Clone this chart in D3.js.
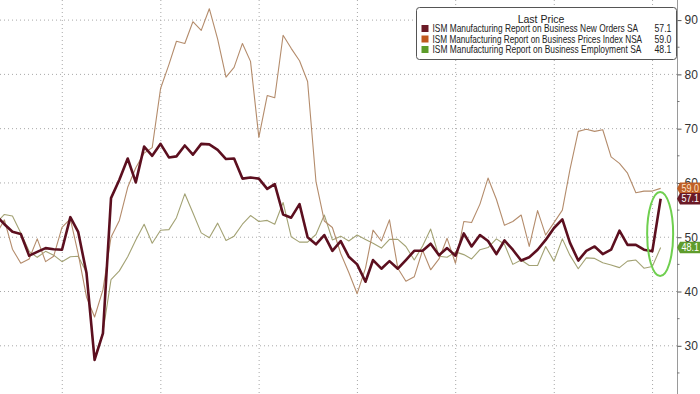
<!DOCTYPE html>
<html>
<head>
<meta charset="utf-8">
<script src="https://cdn.jsdelivr.net/npm/d3@7"></script>
<style>
  html, body { margin: 0; padding: 0; background: #fff; }
  svg { display: block; font-family: "Liberation Sans", Arial, sans-serif; }
</style>
</head>
<body>
<svg id="chart" width="700" height="394"></svg>
<script>
// monthly data, Apr 2019 .. Jan 2026 (month-end)
var startYear = 2019, startMonth = 3;

var newOrders = [
    54.0, 52.4, 51.0, 50.6, 46.6, 47.3, 48.0, 47.8, 47.7,
    53.7, 51.0, 43.4, 27.4, 32.3, 57.2, 60.6, 64.5, 60.1, 66.7, 65.0, 67.2,
    64.7, 64.9, 66.9, 65.2, 67.2, 67.1, 66.1, 64.4, 64.5, 60.8, 61.0, 60.8,
    58.9, 59.8, 54.2, 53.6, 56.1, 50.0, 48.7, 50.4, 47.5, 49.3, 46.4, 45.0,
    41.8, 45.8, 44.2, 45.6, 44.2, 45.8, 47.5, 47.5, 48.8, 46.7, 48.0, 46.6,
    50.7, 48.3, 50.4, 49.3, 46.9, 49.4, 47.7, 45.7, 46.3, 47.7, 49.5, 51.7,
    53.3, 49.0, 45.7, 47.5, 48.3, 46.9, 47.7, 51.2, 48.6, 48.6, 47.7, 47.4,
    57.1
];

var prices = [
    50.5, 53.2, 47.8, 45.2, 46.0, 49.7, 45.5, 46.5, 51.8,
    53.4, 47.0, 39.0, 35.3, 40.3, 50.0, 53.1, 59.2, 62.8, 65.5, 66.5, 77.4,
    81.8, 86.1, 85.7, 89.7, 88.1, 92.1, 86.5, 79.5, 81.3, 85.7, 82.4, 68.4,
    76.1, 75.7, 87.2, 84.8, 82.5, 78.7, 60.3, 53.0, 51.8, 47.0, 43.5, 39.6,
    44.3, 51.3, 49.3, 53.2, 44.3, 41.9, 42.7, 47.6, 44.0, 46.0, 49.8, 45.2,
    52.9, 52.7, 56.1, 60.9, 57.0, 52.2, 52.9, 54.1, 48.3, 54.9, 50.4, 52.7,
    55.0, 62.4, 69.5, 69.9, 69.5, 69.8, 64.8, 63.6, 61.8, 58.2, 58.5, 58.5,
    59.0
];

var employment = [
    52.6, 54.2, 53.9, 50.8, 47.4, 46.3, 47.4, 46.7, 45.5,
    46.4, 46.5, 43.5, 27.8, 32.5, 42.2, 43.8, 46.4, 49.5, 52.4, 48.9, 51.3,
    51.4, 53.6, 58.0, 54.5, 50.8, 49.9, 52.6, 49.4, 50.2, 52.4, 54.0, 52.9,
    53.1, 52.4, 56.4, 50.1, 49.1, 49.1, 50.5, 54.1, 49.5, 50.2, 49.3, 50.4,
    49.6, 48.9, 48.0, 49.6, 49.6, 48.3, 45.8, 48.4, 51.5, 46.5, 46.3, 47.3,
    46.8, 46.0, 47.7, 48.1, 49.7, 48.7, 45.0, 45.8, 44.8, 44.8, 48.3, 45.6,
    49.7, 46.7, 44.2, 46.2, 46.1, 45.3, 44.9, 44.4, 45.6, 45.8, 44.3, 44.6,
    48.1
];

var seriesNames = [
    "ISM Manufacturing Report on Business New Orders SA",
    "ISM Manufacturing Report on Business Prices Index NSA",
    "ISM Manufacturing Report on Business Employment SA"
];
var lastValues = ["57.1", "59.0", "48.1"];
var yTicks = [30, 40, 50, 60, 70, 80, 90];
var yMinor = [25, 35, 45, 55, 65, 75, 85];
var gridYears = [2020, 2021, 2022, 2023, 2024, 2025, 2026];

var lineColors = ["#5c0f1f", "#b48c6c", "#a3a274"];
var keyColors = ["#6b1a26", "#c0581e", "#5d9c2a"];
var tagColors = ["#6b1a26", "#bf5f26", "#5f9c2c"];

var svg = d3.select("svg#chart"),
    width = 677,
    height = 394;

function monthEnd(i) {
    return new Date(startYear, startMonth + i + 1, 0);
}

// squeeze a text horizontally so it spans exactly w pixels
function squeeze(sel, left, base, w) {
    sel.each(function (d, i) {
        var node = d3.select(this);
        var natural = this.getComputedTextLength();
        var wi = typeof w === "function" ? w(d, i) : w;
        var bi = typeof base === "function" ? base(d, i) : base;
        node.attr("x", 0).attr("y", 0)
            .attr("transform", "translate(" + left + "," + bi + ") scale(" + (wi / natural) + ",1)");
    });
}

var x = d3.scaleTime()
    .domain([new Date(2019, 11, 31), new Date(2025, 11, 31)])
    .range([62, 652.3]);

var y = d3.scaleLinear()
    .domain([30, 90])
    .range([345.8, 20.1]);

svg.append("defs").append("clipPath").attr("id", "plotclip")
    .append("rect").attr("x", 0).attr("y", 0).attr("width", width).attr("height", height);

// grid
var grid = svg.append("g");
grid.selectAll(".hgrid")
    .data(yTicks)
    .enter().append("line")
    .attr("x1", 0).attr("x2", width)
    .attr("y1", function (d) { return y(d); })
    .attr("y2", function (d) { return y(d); })
    .attr("stroke", "#a8a8a8")
    .attr("stroke-dasharray", "1,3");
grid.selectAll(".vgrid")
    .data(gridYears)
    .enter().append("line")
    .attr("x1", function (d) { return x(new Date(d, 0, 1)); })
    .attr("x2", function (d) { return x(new Date(d, 0, 1)); })
    .attr("y1", 0).attr("y2", height)
    .attr("stroke", "#a8a8a8")
    .attr("stroke-dasharray", "1,3");

// lines
var line = d3.line()
    .x(function (d, i) { return x(monthEnd(i)); })
    .y(function (d) { return y(d); });

var plot = svg.append("g").attr("clip-path", "url(#plotclip)");
plot.append("path").datum(employment)
    .attr("fill", "none").attr("stroke", lineColors[2]).attr("stroke-width", 1.1)
    .attr("stroke-linejoin", "round").attr("d", line);
plot.append("path").datum(prices)
    .attr("fill", "none").attr("stroke", lineColors[1]).attr("stroke-width", 1.1)
    .attr("stroke-linejoin", "round").attr("d", line);
plot.append("path").datum(newOrders)
    .attr("fill", "none").attr("stroke", lineColors[0]).attr("stroke-width", 2.6)
    .attr("stroke-linejoin", "round").attr("d", line);

// right axis
svg.append("line")
    .attr("x1", width + 0.5).attr("x2", width + 0.5)
    .attr("y1", 0).attr("y2", height)
    .attr("stroke", "#9a9a9a");

var axis = svg.append("g")
    .attr("transform", "translate(" + (width + 0.5) + ",0)")
    .call(d3.axisRight(y).tickValues(yTicks).tickSize(4).tickPadding(3));
axis.select(".domain").remove();
axis.selectAll("line").attr("stroke", "#555");
axis.selectAll("text")
    .attr("fill", "#333")
    .style("font-size", "12px")
    .style("font-family", "Liberation Sans, Arial, sans-serif");

svg.append("g").selectAll("line")
    .data(yMinor)
    .enter().append("line")
    .attr("x1", width).attr("x2", width + 2.5)
    .attr("y1", function (d) { return y(d); })
    .attr("y2", function (d) { return y(d); })
    .attr("stroke", "#777");

// legend
var legend = svg.append("g");
legend.append("rect")
    .attr("x", 416.5).attr("y", 7.5)
    .attr("width", 260).attr("height", 52)
    .attr("rx", 3)
    .attr("fill", "#fff")
    .attr("stroke", "#555");
legend.append("text")
    .attr("x", 541).attr("y", 22.5)
    .attr("text-anchor", "middle")
    .attr("fill", "#222")
    .style("font-size", "10.5px")
    .text("Last Price");

var rowY = [28.5, 39, 49.5];
var textWidths = [206, 210, 209];
var rows = legend.selectAll(".row")
    .data(seriesNames)
    .enter().append("g");
rows.append("rect")
    .attr("x", 421.5)
    .attr("y", function (d, i) { return rowY[i] - 3.5; })
    .attr("width", 7).attr("height", 7)
    .attr("fill", function (d, i) { return keyColors[i]; });
rows.append("text")
    .attr("fill", "#222")
    .style("font-size", "10px")
    .text(function (d) { return d; })
    .call(squeeze, 432.5, function (d, i) { return rowY[i] + 3.6; },
        function (d, i) { return textWidths[i]; });
rows.append("text")
    .attr("fill", "#222")
    .style("font-size", "10px")
    .text(function (d, i) { return lastValues[i]; })
    .call(squeeze, 654.5, function (d, i) { return rowY[i] + 3.6; }, 17);

// last value tags (prices drawn first, new orders over it)
var lastSeries = [newOrders, prices, employment];
var tagOrder = [1, 0, 2];
var tags = svg.append("g").selectAll(".tag")
    .data(tagOrder)
    .enter().append("g")
    .attr("transform", function (k) {
        var s = lastSeries[k];
        return "translate(679," + y(s[s.length - 1]) + ")";
    });
tags.append("path")
    .attr("d", "M-2,0 L1,-5.8 L24,-5.8 L24,5.8 L1,5.8 Z")
    .attr("fill", function (k) { return tagColors[k]; });
tags.append("text")
    .attr("fill", function (k) { return k == 1 ? "#fde2c8" : "#fff"; })
    .style("font-size", "10.5px")
    .text(function (k) { return lastValues[k]; })
    .call(squeeze, 2.5, 3.8, 17.5);

// highlight ring round the latest jump
svg.append("ellipse")
    .attr("cx", x(monthEnd(newOrders.length - 1)) - 0.5)
    .attr("cy", 234)
    .attr("rx", 13)
    .attr("ry", 42)
    .attr("fill", "none")
    .attr("stroke", "#6fcf4f")
    .attr("stroke-width", 2);
</script>
</body>
</html>
